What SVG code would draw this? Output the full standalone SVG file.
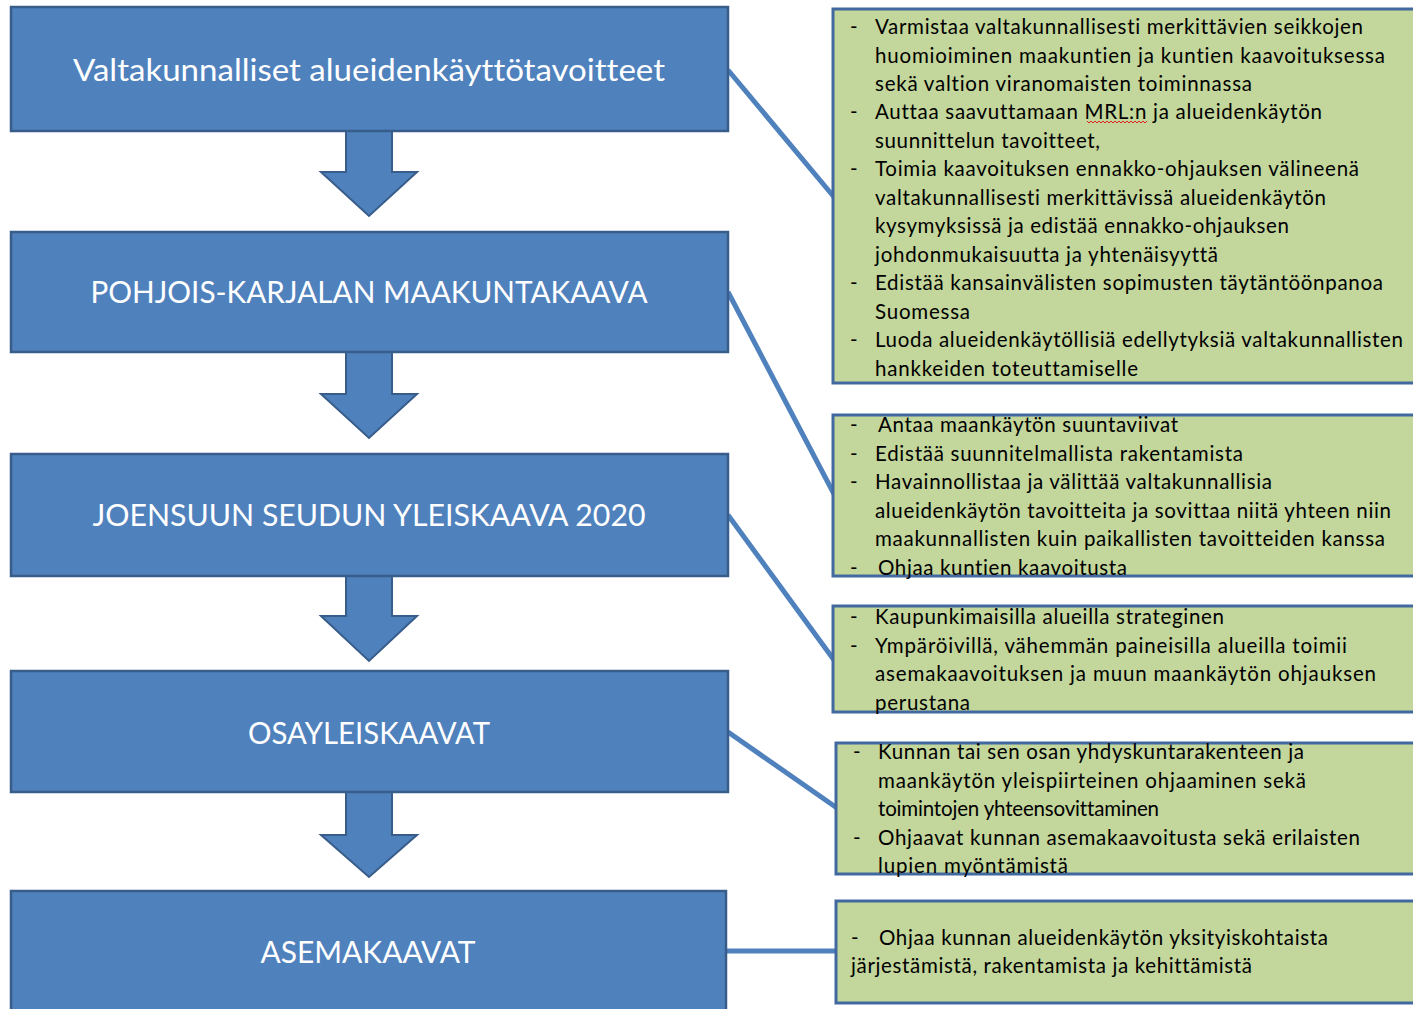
<svg xmlns="http://www.w3.org/2000/svg" width="1413" height="1009" viewBox="0 0 1413 1009">
<style>
.bb{fill:#4F81BD;stroke:#385D8A;stroke-width:2.5}
.gb{fill:#C3D69B;stroke:#4268A0;stroke-width:3}
.ar{fill:#4F81BD;stroke:#385D8A;stroke-width:2;stroke-linejoin:miter}
.cn{stroke:#4F81BD;stroke-width:5;fill:none}
.tt{font-family:Lato,"Liberation Sans",sans-serif;font-size:30px;fill:#FFFFFF;text-anchor:middle;font-variant-ligatures:none;font-feature-settings:"liga" 0,"dlig" 0}
.tx{font-family:Lato,"Liberation Sans",sans-serif;font-size:20.5px;fill:#000000;font-variant-ligatures:none;font-feature-settings:"liga" 0,"dlig" 0}
</style>
<rect width="1413" height="1009" fill="#FFFFFF"/>
<g id="connectors">
<line class="cn" x1="728" y1="70" x2="834" y2="197"/>
<line class="cn" x1="728" y1="292" x2="834" y2="494"/>
<line class="cn" x1="728" y1="515" x2="834" y2="660"/>
<line class="cn" x1="728" y1="732" x2="837" y2="808"/>
<line class="cn" x1="726" y1="951" x2="837" y2="951"/>
<polygon class="ar" points="346,131 392,131 392,172 417,172 369,216 321,172 346,172"/>
<polygon class="ar" points="346,352 392,352 392,394 417,394 369,438 321,394 346,394"/>
<polygon class="ar" points="346,576 392,576 392,616 417,616 369,661 321,616 346,616"/>
<polygon class="ar" points="346,792 392,792 392,835 417,835 369,877 321,835 346,835"/>
</g>
<g id="n1">
<rect class="bb" x="11" y="7" width="717" height="124"/>
<text class="tt" x="369" y="81" textLength="592" lengthAdjust="spacingAndGlyphs">Valtakunnalliset alueidenkäyttötavoitteet</text>
</g>
<g id="n2">
<rect class="bb" x="11" y="232" width="717" height="120"/>
<text class="tt" x="369" y="303" textLength="557" lengthAdjust="spacingAndGlyphs">POHJOIS-KARJALAN MAAKUNTAKAAVA</text>
</g>
<g id="n3">
<rect class="bb" x="11" y="454" width="717" height="122"/>
<text class="tt" x="369" y="526" textLength="553" lengthAdjust="spacingAndGlyphs">JOENSUUN SEUDUN YLEISKAAVA 2020</text>
</g>
<g id="n4">
<rect class="bb" x="11" y="671" width="717" height="121"/>
<text class="tt" x="369" y="744" textLength="242" lengthAdjust="spacingAndGlyphs">OSAYLEISKAAVAT</text>
</g>
<g id="n5">
<rect class="bb" x="11" y="891" width="715" height="130"/>
<text class="tt" x="368" y="963" textLength="215" lengthAdjust="spacingAndGlyphs">ASEMAKAAVAT</text>
</g>
<g id="g1">
<rect class="gb" x="833" y="9" width="590" height="374"/>
<text class="tx" x="850" y="34">-</text>
<text class="tx" x="875" y="34" textLength="488">Varmistaa valtakunnallisesti merkittävien seikkojen</text>
<text class="tx" x="875" y="62.5" textLength="510">huomioiminen maakuntien ja kuntien kaavoituksessa</text>
<text class="tx" x="875" y="91" textLength="377">sekä valtion viranomaisten toiminnassa</text>
<text class="tx" x="850" y="119">-</text>
<text class="tx" x="875" y="119" textLength="447">Auttaa saavuttamaan MRL:n ja alueidenkäytön</text>
<polyline points="1087,121 1089,123 1091,121 1093,123 1095,121 1097,123 1099,121 1101,123 1103,121 1105,123 1107,121 1109,123 1111,121 1113,123 1115,121 1117,123 1119,121 1121,123 1123,121 1125,123 1127,121 1129,123 1131,121 1133,123 1135,121 1137,123 1139,121 1141,123 1143,121 1145,123 1147,121" fill="none" stroke="#E02020" stroke-width="1"/>
<text class="tx" x="875" y="147.5" textLength="225">suunnittelun tavoitteet,</text>
<text class="tx" x="850" y="176">-</text>
<text class="tx" x="875" y="176" textLength="484">Toimia kaavoituksen ennakko-ohjauksen välineenä</text>
<text class="tx" x="875" y="204.5" textLength="451">valtakunnallisesti merkittävissä alueidenkäytön</text>
<text class="tx" x="875" y="233" textLength="414">kysymyksissä ja edistää ennakko-ohjauksen</text>
<text class="tx" x="875" y="261.5" textLength="343">johdonmukaisuutta ja yhtenäisyyttä</text>
<text class="tx" x="850" y="290">-</text>
<text class="tx" x="875" y="290" textLength="508">Edistää kansainvälisten sopimusten täytäntöönpanoa</text>
<text class="tx" x="875" y="318.5" textLength="95">Suomessa</text>
<text class="tx" x="850" y="347">-</text>
<text class="tx" x="875" y="347" textLength="528">Luoda alueidenkäytöllisiä edellytyksiä valtakunnallisten</text>
<text class="tx" x="875" y="375.5" textLength="263">hankkeiden toteuttamiselle</text>
</g>
<g id="g2">
<rect class="gb" x="833" y="415" width="590" height="161"/>
<text class="tx" x="850" y="432">-</text>
<text class="tx" x="878" y="432" textLength="300">Antaa maankäytön suuntaviivat</text>
<text class="tx" x="850" y="460.5">-</text>
<text class="tx" x="875" y="460.5" textLength="368">Edistää suunnitelmallista rakentamista</text>
<text class="tx" x="850" y="489">-</text>
<text class="tx" x="875" y="489" textLength="397">Havainnollistaa ja välittää valtakunnallisia</text>
<text class="tx" x="875" y="517.5" textLength="516">alueidenkäytön tavoitteita ja sovittaa niitä yhteen niin</text>
<text class="tx" x="875" y="546" textLength="510">maakunnallisten kuin paikallisten tavoitteiden kanssa</text>
<text class="tx" x="850" y="575">-</text>
<text class="tx" x="878" y="575" textLength="249">Ohjaa kuntien kaavoitusta</text>
</g>
<g id="g3">
<rect class="gb" x="833" y="606" width="590" height="106"/>
<text class="tx" x="850" y="624">-</text>
<text class="tx" x="875" y="624" textLength="349">Kaupunkimaisilla alueilla strateginen</text>
<text class="tx" x="850" y="652.5">-</text>
<text class="tx" x="875" y="652.5" textLength="472">Ympäröivillä, vähemmän paineisilla alueilla toimii</text>
<text class="tx" x="875" y="681" textLength="501">asemakaavoituksen ja muun maankäytön ohjauksen</text>
<text class="tx" x="875" y="709.5" textLength="95">perustana</text>
</g>
<g id="g4">
<rect class="gb" x="836" y="743" width="590" height="131"/>
<text class="tx" x="853" y="759">-</text>
<text class="tx" x="878" y="759" textLength="426">Kunnan tai sen osan yhdyskuntarakenteen ja</text>
<text class="tx" x="878" y="787.5" textLength="428">maankäytön yleispiirteinen ohjaaminen sekä</text>
<text class="tx" x="878" y="816" textLength="281">toimintojen yhteensovittaminen</text>
<text class="tx" x="853" y="844.5">-</text>
<text class="tx" x="878" y="844.5" textLength="482">Ohjaavat kunnan asemakaavoitusta sekä erilaisten</text>
<text class="tx" x="878" y="873" textLength="190">lupien myöntämistä</text>
</g>
<g id="g5">
<rect class="gb" x="836" y="901" width="590" height="102"/>
<text class="tx" x="851" y="945">-</text>
<text class="tx" x="879" y="945" textLength="449">Ohjaa kunnan alueidenkäytön yksityiskohtaista</text>
<text class="tx" x="851" y="973" textLength="401">järjestämistä, rakentamista ja kehittämistä</text>
</g>
</svg>
